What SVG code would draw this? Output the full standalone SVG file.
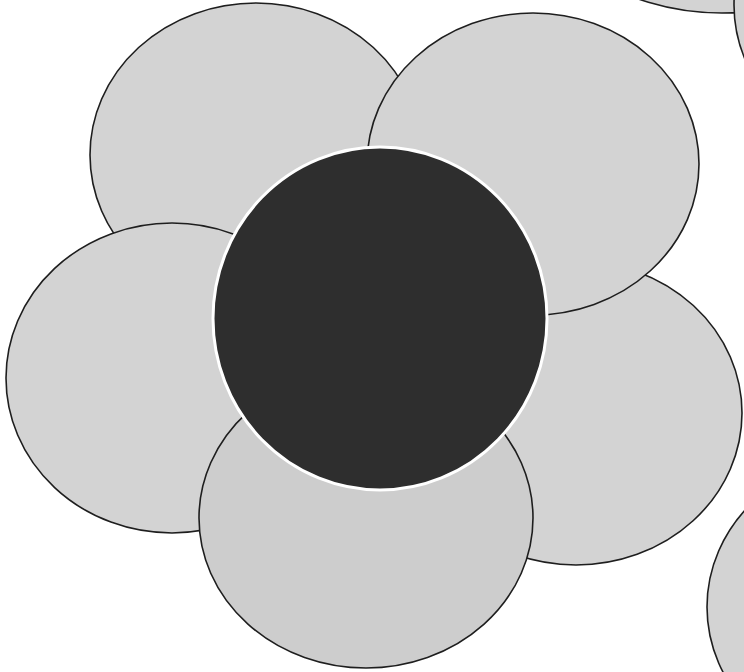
<svg xmlns="http://www.w3.org/2000/svg" width="744" height="672" viewBox="0 0 744 672">
  <style>
    .petal { fill: #d3d3d3; stroke: #1e1e1e; stroke-width: 1.6; }
    .petal-b { fill: #cdcdcd; stroke: #1e1e1e; stroke-width: 1.6; }
    .core { fill: #2e2e2e; stroke: #ffffff; stroke-width: 3; }
  </style>
  <rect width="744" height="672" fill="#ffffff"/>
  <g id="corner-top-a"><ellipse class="petal" cx="722" cy="-140" rx="200" ry="153"/></g>
  <g id="corner-top-b"><ellipse class="petal" cx="900" cy="5" rx="166" ry="152"/></g>
  <g id="corner-bottom"><ellipse class="petal" cx="873" cy="607" rx="166" ry="152"/></g>
  <g id="petal-right"><ellipse class="petal" cx="576" cy="413" rx="166" ry="152"/></g>
  <g id="petal-top-left"><ellipse class="petal" cx="256" cy="155" rx="166" ry="152"/></g>
  <g id="petal-top-right"><ellipse class="petal" cx="533" cy="164" rx="166" ry="151"/></g>
  <g id="petal-left"><ellipse class="petal" cx="172" cy="378" rx="166" ry="155"/></g>
  <g id="petal-bottom"><ellipse class="petal-b" cx="366" cy="518" rx="167" ry="150"/></g>
  <g id="center"><ellipse class="core" cx="380" cy="318.5" rx="167" ry="171.5"/></g>
</svg>
